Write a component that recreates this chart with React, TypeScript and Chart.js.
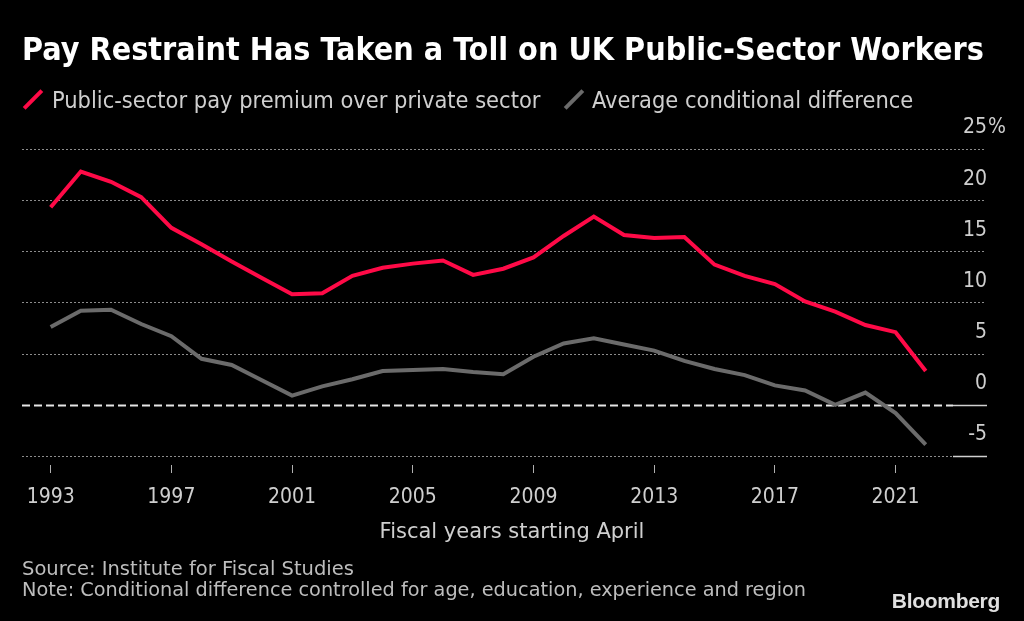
import React, { useEffect, useRef } from 'react';
import { Chart, registerables } from 'chart.js';

// Register Chart.js components
Chart.register(...registerables);

const years = [
  1993, 1994, 1995, 1996, 1997, 1998, 1999, 2000, 2001, 2002,
  2003, 2004, 2005, 2006, 2007, 2008, 2009, 2010, 2011, 2012,
  2013, 2014, 2015, 2016, 2017, 2018, 2019, 2020, 2021, 2022,
];
// Public-sector pay premium over private sector (%)
const payPremium = [
  19.3, 22.8, 21.8, 20.3, 17.3, 15.7, 14.0, 12.4, 10.8, 10.9,
  12.6, 13.4, 13.8, 14.1, 12.7, 13.3, 14.4, 16.5, 18.4, 16.6,
  16.3, 16.4, 13.7, 12.6, 11.8, 10.1, 9.1, 7.8, 7.1, 3.3,
];
// Average conditional difference (%)
const conditionalDiff = [
  7.6, 9.2, 9.3, 7.9, 6.7, 4.5, 3.9, 2.4, 0.9, 1.8,
  2.5, 3.3, 3.4, 3.5, 3.2, 3.0, 4.7, 6.0, 6.5, 5.9,
  5.3, 4.3, 3.5, 2.9, 1.9, 1.4, 0.0, 1.2, -0.8, -3.9,
];
const xTicks = [1993, 1997, 2001, 2005, 2009, 2013, 2017, 2021];
const yTicks = [-5, 0, 5, 10, 15, 20, 25];

const RED = '#ff0a47';
const GREY = '#6b6b6b';
const TEXT = '#cfcfcf';
const FONT = "'DejaVu Sans Condensed', 'DejaVu Sans', sans-serif";
const FONT_WIDE = "'DejaVu Sans', sans-serif";

// dotted grid, dashed zero line and the short solid stubs under the axis labels
const gridPlugin = {
  id: 'bbgGrid',
  beforeDatasetsDraw(chart: any) {
    const { ctx, chartArea, scales } = chart;
    const y = scales.y;
    const left = chartArea.left;
    const right = chartArea.right;
    const stub = right - 34;
    ctx.save();
    yTicks.forEach((v) => {
      const py = Math.round(y.getPixelForValue(v)) + 0.5;
      if (v === 0) {
        ctx.strokeStyle = '#e6e6e6';
        ctx.lineWidth = 2;
        ctx.setLineDash([8, 4]);
        ctx.beginPath();
        ctx.moveTo(left, py);
        ctx.lineTo(stub, py);
        ctx.stroke();
      } else {
        ctx.strokeStyle = '#8c8c8c';
        ctx.lineWidth = 1;
        ctx.setLineDash([2, 2]);
        ctx.beginPath();
        ctx.moveTo(left, py);
        ctx.lineTo(v === -5 ? stub : right - 2, py);
        ctx.stroke();
      }
      if (v <= 0) {
        ctx.setLineDash([]);
        ctx.strokeStyle = '#d0d0d0';
        ctx.lineWidth = 1.5;
        ctx.beginPath();
        ctx.moveTo(stub, py);
        ctx.lineTo(right, py);
        ctx.stroke();
      }
    });
    ctx.restore();
  },
  afterDraw(chart: any) {
    const { ctx, chartArea, scales } = chart;
    const py = scales.y.getPixelForValue(yTicks[yTicks.length - 1]) - 21;
    ctx.save();
    ctx.fillStyle = TEXT;
    ctx.font = `21px ${FONT}`;
    ctx.textAlign = 'left';
    ctx.textBaseline = 'middle';
    ctx.fillText('%', chartArea.right + 1, py);
    ctx.restore();
  },
};

function PayChart() {
  const chartRef = useRef<HTMLCanvasElement | null>(null);
  const chartInstanceRef = useRef<Chart | null>(null);

  useEffect(() => {
    if (!chartRef.current) return;
    if (chartInstanceRef.current) chartInstanceRef.current.destroy();
    const ctx = chartRef.current.getContext('2d');
    if (!ctx) return;

    chartInstanceRef.current = new Chart(ctx, {
      type: 'line',
      data: {
        datasets: [
          {
            label: 'Public-sector pay premium over private sector',
            data: years.map((yr, i) => ({ x: yr, y: payPremium[i] })),
            borderColor: RED,
            borderWidth: 4,
            pointRadius: 0,
            tension: 0,
          },
          {
            label: 'Average conditional difference',
            data: years.map((yr, i) => ({ x: yr, y: conditionalDiff[i] })),
            borderColor: GREY,
            borderWidth: 4,
            pointRadius: 0,
            tension: 0,
          },
        ],
      },
      options: {
        responsive: false,
        animation: false,
        layout: { padding: { left: 22, right: 37, top: 149, bottom: 116 } },
        plugins: {
          legend: { display: false },
          tooltip: { enabled: false },
        },
        scales: {
          x: {
            type: 'linear',
            min: 1992.05,
            max: 2024.03,
            afterBuildTicks: (axis: any) => {
              axis.ticks = xTicks.map((v) => ({ value: v }));
            },
            afterFit: (axis: any) => {
              axis.height = 40;
            },
            ticks: {
              color: TEXT,
              font: { family: FONT, size: 21 },
              padding: 12,
              maxRotation: 0,
              autoSkip: false,
              callback: (v: any) => String(v),
            },
            grid: {
              drawOnChartArea: false,
              drawTicks: true,
              tickLength: 8,
              color: '#b0b0b0',
              lineWidth: 1,
            },
            border: { display: false },
          },
          y: {
            type: 'linear',
            position: 'right',
            min: -5.88,
            max: 25,
            afterBuildTicks: (axis: any) => {
              axis.ticks = yTicks.map((v) => ({ value: v }));
            },
            afterFit: (axis: any) => {
              axis.width = 0;
            },
            ticks: {
              mirror: true,
              padding: 0,
              labelOffset: -21,
              color: TEXT,
              font: { family: FONT, size: 21 },
              callback: (v: any) => String(v),
            },
            grid: { display: false },
            border: { display: false },
          },
        },
      },
      plugins: [gridPlugin],
    });

    return () => {
      if (chartInstanceRef.current) {
        chartInstanceRef.current.destroy();
        chartInstanceRef.current = null;
      }
    };
  }, []);

  return <canvas ref={chartRef} width={1024} height={621} style={{ position: 'absolute', left: 0, top: 0 }} />;
}

const textBase: React.CSSProperties = {
  position: 'absolute',
  fontFamily: FONT,
  lineHeight: 1,
  whiteSpace: 'nowrap',
  margin: 0,
};

const swatch = (color: string, cx: number): React.CSSProperties => ({
  position: 'absolute',
  left: cx - 2,
  top: 99.5 - 12.5,
  width: 4,
  height: 25,
  background: color,
  transform: 'rotate(45deg)',
});

export default function App() {
  return (
    <div
      style={{
        position: 'fixed',
        left: 0,
        top: 0,
        width: 1024,
        height: 621,
        background: '#000',
        overflow: 'hidden',
      }}
    >
      <PayChart />
      <div style={{ ...textBase, left: 22, top: 33, fontSize: 32, fontWeight: 'bold', color: '#fff' }}>
        Pay Restraint Has Taken a Toll on UK Public-Sector Workers
      </div>
      <div style={swatch(RED, 33)} />
      <div style={{ ...textBase, left: 52, top: 88.5, fontSize: 23.4, color: TEXT }}>
        Public-sector pay premium over private sector
      </div>
      <div style={swatch(GREY, 573.5)} />
      <div style={{ ...textBase, left: 592, top: 88.5, fontSize: 23.4, color: TEXT }}>
        Average conditional difference
      </div>
      <div style={{ ...textBase, left: 0, width: 1024, textAlign: 'center', top: 521, fontSize: 21, color: TEXT, fontFamily: FONT_WIDE }}>
        Fiscal years starting April
      </div>
      <div style={{ ...textBase, left: 22, top: 559, fontSize: 19.5, color: '#bdbdbd', fontFamily: FONT_WIDE }}>
        Source: Institute for Fiscal Studies
      </div>
      <div style={{ ...textBase, left: 22, top: 580, fontSize: 19.3, color: '#bdbdbd', fontFamily: FONT_WIDE }}>
        Note: Conditional difference controlled for age, education, experience and region
      </div>
      <div
        style={{
          ...textBase,
          right: 24,
          top: 590,
          fontSize: 21,
          fontWeight: 'bold',
          fontFamily: "'Liberation Sans', Arial, sans-serif",
          color: '#e0e0e0',
          letterSpacing: -0.3,
        }}
      >
        Bloomberg
      </div>
    </div>
  );
}
